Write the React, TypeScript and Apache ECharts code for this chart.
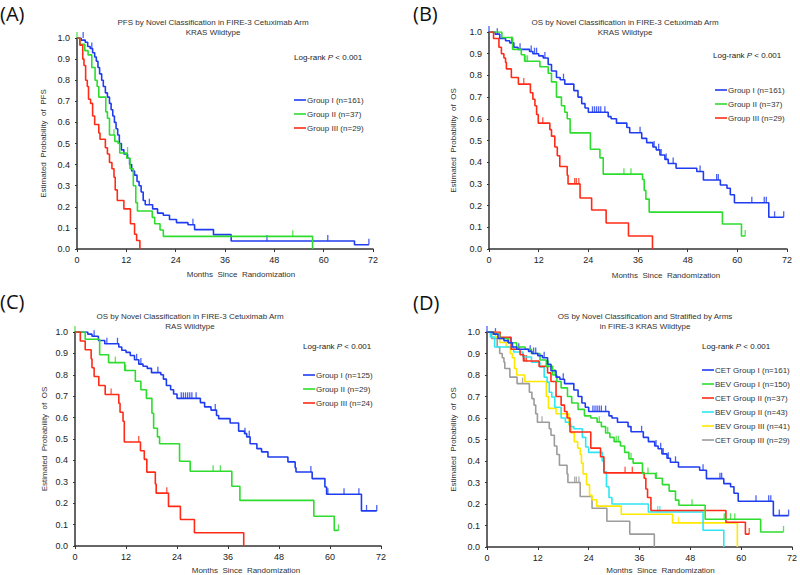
import { useEffect, useRef } from "react";
import * as echarts from "echarts";

type P = [number, number];

// ---------- Panel A : PFS, KRAS wildtype (cetuximab arm) ----------
const A_NAMES = ["Group I (n=161)", "Group II (n=37)", "Group III (n=29)"];
const A_I: P[] = [[0,1],[1.0,0.99],[2.0,0.98],[2.6,0.96],[3.2,0.95],[3.8,0.93],[4.3,0.91],[4.7,0.89],[5.1,0.86],[5.5,0.83],[6.0,0.8],[6.4,0.77],[6.9,0.74],[7.4,0.72],[7.9,0.69],[8.3,0.66],[8.7,0.63],[9.1,0.6],[9.5,0.57],[9.9,0.54],[10.3,0.5],[10.8,0.47],[11.4,0.45],[12.3,0.43],[12.8,0.4],[13.3,0.37],[14.0,0.35],[14.6,0.32],[15.1,0.3],[15.6,0.27],[16.1,0.23],[16.6,0.21],[18.4,0.19],[19.6,0.17],[21,0.16],[22.5,0.14],[24.2,0.125],[27,0.115],[28.6,0.092],[33.2,0.068],[37.5,0.038],[67.5,0.02],[71,0.02]];
const A_I_CENS: P[] = [[1.5,1.0],[3.6,0.95],[17.6,0.21],[28.2,0.115],[46.2,0.038],[61,0.038],[71,0.02]];
const A_II: P[] = [[0,1],[0.7,0.97],[1.9,0.94],[2.7,0.92],[3.6,0.86],[4.4,0.8],[4.9,0.77],[5.3,0.72],[7.0,0.65],[7.4,0.62],[7.9,0.54],[9.2,0.51],[10.0,0.5],[10.4,0.455],[12.1,0.43],[12.9,0.38],[13.7,0.3],[14.3,0.22],[14.7,0.18],[18.3,0.15],[18.9,0.12],[20.2,0.09],[21.0,0.06],[57.3,0.0]];
const A_II_CENS: P[] = [[0,1.0],[9.0,0.54],[12.3,0.455],[52.5,0.06]];
const A_III: P[] = [[0,1],[0.7,0.966],[1.4,0.9],[1.7,0.87],[2.1,0.8],[2.5,0.77],[2.8,0.71],[3.3,0.69],[3.8,0.63],[4.3,0.59],[5.3,0.55],[5.6,0.52],[6.9,0.48],[7.4,0.45],[7.9,0.41],[8.5,0.38],[9.0,0.34],[9.3,0.28],[9.8,0.23],[11.4,0.19],[13.0,0.12],[14.0,0.07],[14.5,0.04],[15.3,0.0]];

// ---------- Panel B : OS, KRAS wildtype (cetuximab arm) ----------
const B_NAMES = ["Group I (n=161)", "Group II (n=37)", "Group III (n=29)"];
const B_I: P[] = [[0,1],[1.5,0.99],[2.6,0.97],[4.0,0.96],[5.0,0.95],[6.0,0.93],[7.0,0.92],[9.8,0.91],[10.6,0.9],[12,0.89],[13.1,0.88],[14.3,0.85],[15.1,0.82],[16.3,0.79],[17.2,0.78],[18.3,0.76],[20.5,0.73],[21.5,0.7],[22.4,0.67],[23.2,0.65],[24.0,0.63],[28.8,0.61],[29.5,0.6],[30.8,0.58],[33.3,0.56],[34.0,0.536],[36.9,0.51],[38.1,0.49],[39.6,0.47],[40.4,0.457],[41.3,0.433],[42.5,0.413],[43.3,0.394],[45.2,0.372],[50.2,0.357],[51.8,0.318],[55.9,0.295],[57.5,0.28],[58.3,0.25],[59.3,0.213],[67.6,0.146],[71.2,0.146]];
const B_I_CENS: P[] = [[0,1.0],[2,0.99],[5.5,0.95],[7.5,0.92],[10.2,0.91],[11,0.9],[11.5,0.9],[13.5,0.88],[18,0.78],[25,0.63],[25.5,0.63],[26,0.63],[26.5,0.63],[27,0.63],[28,0.63],[36.5,0.536],[39.9,0.47],[41,0.457],[41.6,0.433],[42.8,0.413],[44.5,0.394],[51,0.357],[55,0.318],[55.4,0.318],[63.5,0.213],[66.5,0.213],[67,0.213],[69,0.146],[71.2,0.146]];
const B_II: P[] = [[0,1],[3.1,0.975],[5.7,0.92],[7.8,0.895],[8.6,0.865],[12.3,0.84],[14.3,0.81],[15.1,0.77],[16.3,0.7],[17.5,0.66],[18.3,0.63],[18.9,0.6],[19.6,0.535],[24.5,0.46],[26.8,0.42],[27.6,0.345],[37.1,0.32],[37.5,0.27],[37.9,0.23],[38.7,0.17],[56.4,0.115],[61.0,0.06],[61.9,0.06]];
const B_II_CENS: P[] = [[8.9,0.865],[9.3,0.865],[32.6,0.345],[34.3,0.345],[61.9,0.06]];
const B_III: P[] = [[0,1],[1.1,0.97],[2.4,0.93],[3.0,0.9],[3.6,0.88],[4.0,0.86],[4.2,0.83],[5.4,0.79],[7.1,0.76],[10.0,0.72],[10.6,0.69],[11.1,0.66],[11.5,0.62],[11.9,0.58],[14.7,0.55],[15.1,0.52],[15.9,0.47],[16.5,0.43],[17.1,0.38],[18.9,0.34],[19.1,0.3],[22.0,0.235],[24.8,0.18],[28.3,0.12],[33.7,0.06],[39.5,0.0]];
const B_III_CENS: P[] = [[8.4,0.76],[13.0,0.58],[20.7,0.3],[21.1,0.3],[21.7,0.3]];

// ---------- Panel C : OS, RAS wildtype (cetuximab arm) ----------
const C_NAMES = ["Group I (n=125)", "Group II (n=29)", "Group III (n=24)"];
const C_I: P[] = [[0,1],[3.0,0.99],[4.0,0.98],[5.5,0.96],[7.0,0.945],[10.3,0.93],[11.0,0.915],[12.0,0.905],[13.0,0.89],[14.0,0.87],[15.0,0.85],[16.0,0.84],[17.0,0.83],[18.0,0.81],[20.2,0.8],[20.8,0.78],[21.5,0.75],[22.5,0.73],[23.2,0.71],[24.0,0.69],[29.5,0.67],[30.5,0.65],[32.0,0.635],[33.3,0.61],[33.8,0.595],[36.5,0.575],[38.5,0.537],[39.9,0.525],[40.4,0.51],[41.2,0.478],[42.8,0.455],[43.9,0.44],[45.4,0.416],[50.1,0.393],[51.8,0.366],[52.0,0.346],[55.8,0.315],[58.8,0.276],[59.2,0.242],[67.4,0.164],[71.0,0.164]];
const C_I_CENS: P[] = [[4.5,0.98],[7.5,0.945],[10.0,0.945],[14.5,0.87],[15.5,0.85],[19.5,0.81],[25,0.69],[25.5,0.69],[26,0.69],[26.5,0.69],[27,0.69],[27.5,0.69],[28.5,0.69],[33,0.635],[40,0.525],[41,0.51],[55.5,0.346],[59.5,0.242],[63.3,0.242],[66.8,0.242],[68.6,0.164],[71,0.164]];
const C_II: P[] = [[0,1],[2.4,0.966],[5.8,0.894],[7.9,0.857],[11.7,0.82],[14.2,0.77],[15.5,0.73],[16.8,0.69],[18.1,0.62],[18.5,0.55],[19.4,0.51],[19.9,0.478],[24.6,0.396],[27.1,0.349],[36.9,0.279],[38.8,0.213],[56.2,0.139],[61.0,0.073],[62.0,0.073]];
const C_II_CENS: P[] = [[0,1.0],[9.5,0.857],[11.9,0.82],[32.5,0.349],[34.2,0.349],[62.0,0.073]];
const C_III: P[] = [[0,1],[1.25,0.958],[2.4,0.917],[3.8,0.875],[4.0,0.833],[4.5,0.792],[5.6,0.75],[7.1,0.708],[10.3,0.667],[10.6,0.625],[11.3,0.583],[11.6,0.486],[15.4,0.445],[16.3,0.405],[16.9,0.345],[18.9,0.29],[19.1,0.247],[22.0,0.185],[24.8,0.124],[28.1,0.062],[39.7,0.0]];
const C_III_CENS: P[] = [[8.5,0.708],[15.0,0.486],[21.6,0.247]];

// ---------- Panel D : OS stratified by arms, KRAS wildtype ----------
const D_NAMES = ["CET Group I (n=161)", "BEV Group I (n=150)", "CET Group II (n=37)", "BEV Group II (n=43)", "BEV Group III (n=41)", "CET Group III (n=29)"];
const D_BEV_I: P[] = [[0,1],[1.5,0.99],[3,0.97],[5,0.95],[7,0.93],[9,0.92],[10.5,0.9],[12.5,0.87],[14,0.84],[15.5,0.8],[16.5,0.77],[17.5,0.74],[19,0.7],[20,0.67],[21.5,0.64],[23,0.61],[24.5,0.6],[26,0.58],[27,0.56],[28,0.53],[29,0.51],[30,0.49],[31.5,0.47],[32.5,0.44],[33.5,0.41],[34.5,0.39],[36.7,0.342],[39.8,0.32],[41.4,0.29],[43.0,0.26],[44.5,0.218],[45.3,0.194],[51.5,0.129],[64.6,0.07],[70,0.07]];
const D_BEV_I_CENS: P[] = [[14.5,0.84],[16,0.8],[26.5,0.58],[28.5,0.53],[30.5,0.49],[31,0.49],[34,0.41],[38,0.342],[40,0.32],[48.4,0.194],[56,0.129],[57.5,0.129],[58.5,0.129],[70,0.07]];
const D_BEV_II: P[] = [[0,1],[0.8,0.977],[1.8,0.93],[6.3,0.907],[8.5,0.884],[10.5,0.86],[12.5,0.837],[13.5,0.79],[14.2,0.767],[14.7,0.72],[15.3,0.698],[16,0.65],[17.5,0.6],[18.5,0.58],[19.5,0.56],[20.5,0.55],[22.5,0.51],[23.3,0.465],[24,0.44],[27.2,0.4],[27.7,0.35],[28.2,0.28],[28.8,0.23],[29.5,0.2],[38.1,0.163],[51.0,0.078],[55.9,0.0]];
const D_BEV_II_CENS: P[] = [[40.3,0.163],[40.8,0.163]];
const D_BEV_III: P[] = [[0,1],[2.0,0.976],[3.0,0.951],[4.5,0.93],[5.5,0.9],[6,0.88],[6.5,0.83],[7.0,0.8],[8.9,0.77],[14.0,0.7],[14.5,0.645],[16.3,0.62],[19.3,0.57],[19.9,0.53],[20.6,0.49],[21.4,0.46],[22.0,0.43],[22.3,0.39],[22.7,0.34],[23.5,0.29],[24.2,0.24],[24.8,0.22],[25.9,0.19],[31.7,0.152],[43.8,0.112],[59.1,0.0]];
const D_BEV_III_CENS: P[] = [[17.5,0.62],[45.2,0.112]];
// CET arms in panel D are the same cohorts as panel B
const D_CET_I = B_I, D_CET_I_CENS = B_I_CENS;
const D_CET_II = B_II, D_CET_II_CENS = B_II_CENS;
const D_CET_III = B_III, D_CET_III_CENS = B_III_CENS;

const PANEL_LABELS = ["(A)", "(B)", "(C)", "(D)"];
const TITLES = [
  "PFS by Novel Classification in FIRE-3 Cetuximab Arm\nKRAS Wildtype",
  "OS by Novel Classification in FIRE-3 Cetuximab Arm\nKRAS Wildtype",
  "OS by Novel Classification in FIRE-3 Cetuximab Arm\nRAS Wildtype",
  "OS by Novel Classification and Stratified by Arms\nin FIRE-3 KRAS Wildtype",
];
const Y_NAMES = [
  "Estimated  Probability  of  PFS",
  "Estimated  Probability  of  OS",
  "Estimated  Probability  of  OS",
  "Estimated  Probability  of  OS",
];
const X_NAME = "Months  Since  Randomization";
const LOGRANK = "Log-rank {i|P} < 0.001";

const BLUE = "#1f3cf0";
const GREEN = "#2edc2e";
const RED = "#ff2b17";
const CYAN = "#2ee6f2";
const YELLOW = "#ffe800";
const GRAY = "#9c9c9c";
const FONT = "'Liberation Sans', Arial, sans-serif";

const GRIDS = [
  { left: 77, top: 38, width: 296, height: 211 },
  { left: 489, top: 32, width: 298, height: 217 },
  { left: 75, top: 332, width: 306, height: 214 },
  { left: 487, top: 332, width: 306, height: 215 },
];

function km(name: string, data: P[], color: string, g: number) {
  return {
    name, type: "line", step: "end", xAxisIndex: g, yAxisIndex: g, data,
    symbol: "none", showSymbol: false, silent: true,
    lineStyle: { color, width: 1.6 }, itemStyle: { color },
  };
}
function cens(name: string, data: P[], color: string, g: number) {
  return {
    name: name + " censored", type: "scatter", xAxisIndex: g, yAxisIndex: g, data,
    symbol: "rect", symbolSize: [1.3, 6], symbolOffset: [0, -3], silent: true,
    itemStyle: { color },
  };
}

export default function App() {
  const ref = useRef<HTMLDivElement>(null);
  useEffect(() => {
    const chart = echarts.init(ref.current!, null, { renderer: "svg" });
    const yGaps = [30, 32, 27, 30];
    const xGaps = [21, 22, 20, 19];
    const xShift = [32, 56, 36, 42];
    const xAxis = GRIDS.map((_, i) => ({
      type: "value", gridIndex: i, min: 0, max: 72, interval: 12,
      name: X_NAME, nameLocation: "middle", nameGap: xGaps[i],
      nameTextStyle: { fontSize: 8, color: "#333", fontFamily: FONT, padding: [0, 0, 0, xShift[i]] },
      axisLine: { show: true, lineStyle: { color: "#333", width: 1.5 } },
      axisTick: { show: true, length: 3, lineStyle: { color: "#333" } },
      axisLabel: { fontSize: 9, color: "#222", fontFamily: FONT, margin: 6 },
      splitLine: { show: false },
    }));
    const yAxis = GRIDS.map((_, i) => ({
      type: "value", gridIndex: i, min: 0, max: 1, interval: 0.1,
      name: Y_NAMES[i], nameLocation: "middle", nameGap: yGaps[i],
      nameTextStyle: { fontSize: 8, color: "#333", fontFamily: FONT },
      axisLine: { show: true, lineStyle: { color: "#333", width: 1.5 } },
      axisTick: { show: true, length: 2, lineStyle: { color: "#333" } },
      axisLabel: { fontSize: 9, color: "#222", fontFamily: FONT, margin: 7, formatter: (v: number) => v.toFixed(1) },
      splitLine: { show: false },
    }));
    const series: any[] = [
      km(A_NAMES[0], A_I, BLUE, 0), cens(A_NAMES[0] + " A", A_I_CENS, BLUE, 0),
      km(A_NAMES[1], A_II, GREEN, 0), cens(A_NAMES[1] + " A", A_II_CENS, GREEN, 0),
      km(A_NAMES[2], A_III, RED, 0),
      km(B_NAMES[0], B_I, BLUE, 1), cens(B_NAMES[0] + " B", B_I_CENS, BLUE, 1),
      km(B_NAMES[1], B_II, GREEN, 1), cens(B_NAMES[1] + " B", B_II_CENS, GREEN, 1),
      km(B_NAMES[2], B_III, RED, 1), cens(B_NAMES[2] + " B", B_III_CENS, RED, 1),
      km(C_NAMES[0], C_I, BLUE, 2), cens(C_NAMES[0], C_I_CENS, BLUE, 2),
      km(C_NAMES[1], C_II, GREEN, 2), cens(C_NAMES[1], C_II_CENS, GREEN, 2),
      km(C_NAMES[2], C_III, RED, 2), cens(C_NAMES[2], C_III_CENS, RED, 2),
      km(D_NAMES[5], D_CET_III, GRAY, 3), cens(D_NAMES[5], D_CET_III_CENS, GRAY, 3),
      km(D_NAMES[4], D_BEV_III, YELLOW, 3), cens(D_NAMES[4], D_BEV_III_CENS, YELLOW, 3),
      km(D_NAMES[3], D_BEV_II, CYAN, 3), cens(D_NAMES[3], D_BEV_II_CENS, CYAN, 3),
      km(D_NAMES[2], D_CET_II, RED, 3), cens(D_NAMES[2], D_CET_II_CENS, RED, 3),
      km(D_NAMES[1], D_BEV_I, GREEN, 3), cens(D_NAMES[1], D_BEV_I_CENS, GREEN, 3),
      km(D_NAMES[0], D_CET_I, BLUE, 3), cens(D_NAMES[0], D_CET_I_CENS, BLUE, 3),
    ];
    const legendPos = [
      { left: 294, top: 95 }, { left: 715, top: 85 }, { left: 303, top: 370 }, { left: 702, top: 365 },
    ];
    const legendData = [A_NAMES, B_NAMES, C_NAMES, D_NAMES];
    const legend = legendPos.map((p, i) => ({
      ...p, orient: "vertical", padding: 0, itemGap: 4, itemWidth: 12, itemHeight: 1.6,
      icon: "rect", selectedMode: false, data: legendData[i],
      textStyle: { fontSize: 8, color: "#333", fontFamily: FONT, lineHeight: 10, padding: [0, 0, 0, -4] },
    }));
    const labelPos = [[0, 13], [413, 13], [0, 301], [413, 302]];
    const titlePos = [[213, 27], [625, 27], [190, 321], [645, 321]];
    const logPos = [[294, 57], [713, 55], [303, 346], [702, 346]];
    const graphic: any[] = [];
    for (let i = 0; i < 4; i++) {
      graphic.push({
        type: "text", x: labelPos[i][0], y: labelPos[i][1], silent: true,
        style: { text: PANEL_LABELS[i], fontSize: 20, fontFamily: "'Open Sans', 'Noto Sans', sans-serif", fill: "#111", textAlign: "left", textVerticalAlign: "middle", align: "left", verticalAlign: "middle" },
      });
      graphic.push({
        type: "text", x: titlePos[i][0], y: titlePos[i][1], silent: true,
        style: { text: TITLES[i], fontSize: 8, lineHeight: 10, fontFamily: FONT, fill: "#333", textAlign: "center", textVerticalAlign: "middle", align: "center", verticalAlign: "middle" },
      });
      graphic.push({
        type: "text", x: logPos[i][0], y: logPos[i][1], silent: true,
        style: {
          text: LOGRANK, fontSize: 8, fontFamily: FONT, fill: "#222", textAlign: "left", textVerticalAlign: "middle", align: "left", verticalAlign: "middle",
          rich: { i: { fontStyle: "italic", fontSize: 8, fontFamily: FONT, fill: "#222" } },
        },
      });
    }
    chart.setOption({
      animation: false,
      backgroundColor: "#fff",
      textStyle: { fontFamily: FONT },
      grid: GRIDS.map((g) => ({ ...g, containLabel: false })),
      xAxis, yAxis, series, legend, graphic,
    } as any);
    return () => chart.dispose();
  }, []);
  return <div ref={ref} style={{ position: "fixed", left: 0, top: 0, width: 800, height: 575 }} />;
}
